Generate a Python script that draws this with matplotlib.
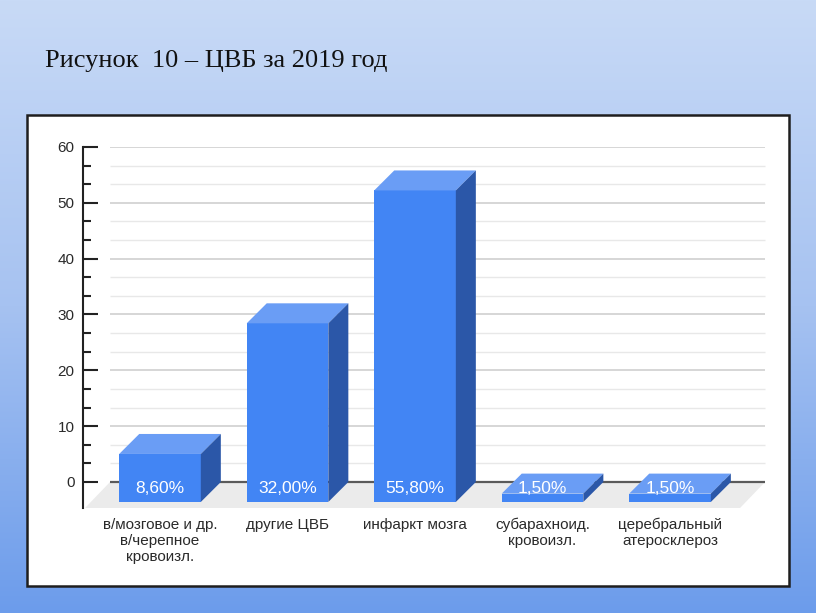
import numpy as np
import matplotlib.pyplot as plt
from matplotlib.patches import Polygon, Rectangle
from matplotlib.colors import LinearSegmentedColormap

categories = [
    "в/мозговое и др.\nв/черепное\nкровоизл.",
    "другие ЦВБ",
    "инфаркт мозга",
    "субарахноид.\nкровоизл.",
    "церебральный\nатеросклероз",
]
values = [8.6, 32.0, 55.8, 1.5, 1.5]
value_labels = ["8,60%", "32,00%", "55,80%", "1,50%", "1,50%"]
title = "Рисунок  10 – ЦВБ за 2019 год"

W, H = 816, 613
fig = plt.figure(figsize=(W / 100, H / 100), dpi=100)


def px_rect(x0, y0, x1, y1):
    # pixel box (top-left origin) -> figure fraction
    return [x0 / W, 1 - y1 / H, (x1 - x0) / W, (y1 - y0) / H]


# background gradient + white panel
bg = fig.add_axes([0, 0, 1, 1])
cmap = LinearSegmentedColormap.from_list("bg", ["#6c9ceb", "#a6c2f1", "#c8daf6"])
grad = np.linspace(0, 1, 256).reshape(-1, 1)
bg.imshow(grad, aspect="auto", cmap=cmap, origin="lower", extent=[0, 1, 0, 1])
bg.add_patch(Rectangle((27 / W, 1 - 586 / H), 762 / W, 471 / H,
                       facecolor="white", edgecolor="#1e1e1e", lw=1.8))
bg.set_xlim(0, 1)
bg.set_ylim(0, 1)
bg.axis("off")
bg.text(45 / W, 1 - 61 / H, title, fontsize=19, family="Liberation Serif",
        va="center", ha="left", color="#111111")

# main plot
ax = fig.add_axes(px_rect(83, 147, 789, 508))
ax.patch.set_alpha(0)
ax.set_xlim(-0.604, 4.933)
ax.set_ylim(-4.66, 60)

hw = 0.32      # half width of front face
dx = 0.157     # depth offset in category units
dy = 3.58      # depth offset in value units
wall_l, wall_r = -0.392, 4.745

# floor
ax.add_patch(Polygon([(wall_l, 0), (wall_r, 0), (wall_r - 0.196, -4.66),
                      (wall_l - 0.196, -4.66)], closed=True,
                     facecolor="#ebebeb", edgecolor="none", zorder=0.5))

# grid
majors = np.arange(0, 61, 10)
minors = [v for v in np.arange(0, 60, 10 / 3) if abs(v - round(v / 10) * 10) > 0.1]
ax.hlines(minors, wall_l, wall_r, color="#e8e8e8", lw=1.0, zorder=1)
ax.hlines(majors[1:], wall_l, wall_r, color="#d0d0d0", lw=1.2, zorder=1)
ax.hlines(0, wall_l, wall_r, color="#5a5a5a", lw=1.6, zorder=1.5)

front_c, top_c, side_c = "#4285f4", "#6a9df5", "#2b57a8"
for i, v in enumerate(values):
    x0, x1 = i - hw, i + hw
    ax.add_patch(Rectangle((x0, -dy), x1 - x0, v, facecolor=front_c,
                           edgecolor="none", zorder=3))
    ax.add_patch(Polygon([(x0, v - dy), (x0 + dx, v), (x1 + dx, v), (x1, v - dy)],
                         closed=True, facecolor=top_c, edgecolor="none", zorder=3))
    ax.add_patch(Polygon([(x1, -dy), (x1, v - dy), (x1 + dx, v), (x1 + dx, 0)],
                         closed=True, facecolor=side_c, edgecolor="none", zorder=3))
    ax.text(i, -dy + 2.5, value_labels[i], ha="center", va="center",
            color="white", fontsize=12.5, family="Liberation Sans", zorder=4)

for s in ["top", "right", "bottom"]:
    ax.spines[s].set_visible(False)
ax.spines["left"].set_color("#222222")
ax.spines["left"].set_linewidth(1.5)

ax.set_yticks(majors)
ax.set_yticks(minors, minor=True)
ax.tick_params(axis="y", which="major", direction="in", length=11, width=1.5,
               color="#222222", labelsize=11, labelcolor="#2a2a2a", pad=6)
ax.tick_params(axis="y", which="minor", direction="in", length=6, width=1.5,
               color="#222222")
ax.set_xticks(range(len(categories)), categories)
ax.tick_params(axis="x", length=0, pad=7, labelsize=11, labelcolor="#2a2a2a")
for lbl in ax.get_xticklabels():
    lbl.set_family("Liberation Sans")
    lbl.set_linespacing(1.2)
for lbl in ax.get_yticklabels():
    lbl.set_family("Liberation Sans")

fig.savefig("out.png", dpi=100)
